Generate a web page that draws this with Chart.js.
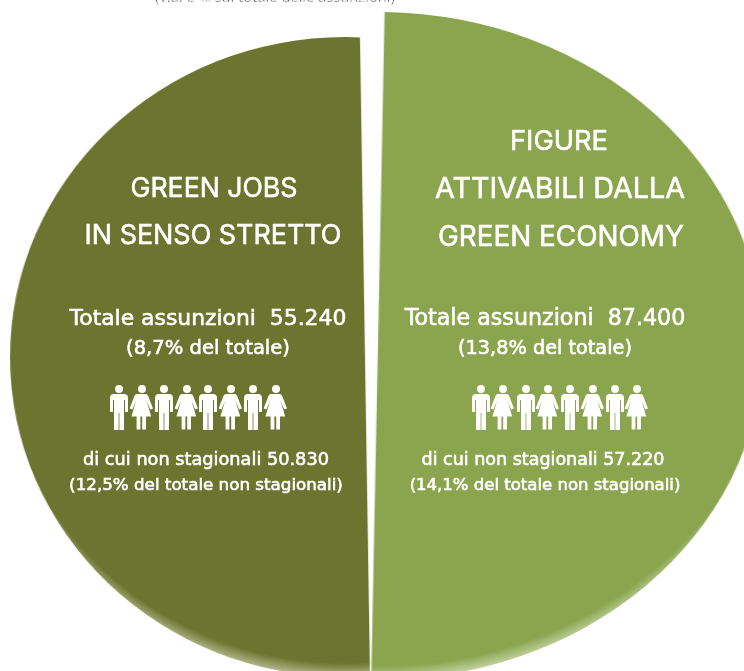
<!DOCTYPE html>
<html lang="it">
<head>
<meta charset="UTF-8">
<title>Green jobs</title>
<script src="https://cdnjs.cloudflare.com/ajax/libs/Chart.js/4.4.1/chart.umd.min.js"></script>
<style>
  html, body { margin: 0; padding: 0; background: #fff; }
  #stage { position: relative; width: 744px; height: 671px; overflow: hidden; }
  canvas { position: absolute; top: 0; left: 0; }
  #labels { position: absolute; top: 0; left: 0; }
  #labels text { fill: #fff; stroke: none; font-family: "DejaVu Sans", sans-serif; font-weight: 200; text-anchor: middle; }
  #labels text.head { font-family: Inter, sans-serif; stroke: #fff; stroke-width: 1.4px; }
  #labels text.note { fill: #000; font-family: "Open Sans", sans-serif; font-weight: 400; }
  #labels tspan.strong { font-weight: 400; stroke: #fff; stroke-width: 0.6px; }
</style>
</head>
<body>
<div id="stage">
  <canvas id="left" width="800" height="800"></canvas>
  <canvas id="right" width="800" height="800"></canvas>
  <svg id="labels" width="744" height="671" xmlns="http://www.w3.org/2000/svg"></svg>
</div>

<script>
const hires = [55240, 87400];
const hireShares = ['8,7', '13,8'];
const nonSeasonal = [50830, 57220];
const nonSeasonalShares = ['12,5', '14,1'];
const colors = ['#6b752f', '#8aa54e'];
const rimColors = ['#b4ba8e', '#c5d4a4'];

const dots = n => String(n).replace(/\B(?=(\d{3})+$)/g, '.');

// each slice is its own chart so the two can have different radii
function slice(id, value, color, rim, rotation, circumference, cx, cy, rx, ry) {
    const canvas = document.getElementById(id);
    const chart = new Chart(canvas, {
        type: 'pie',
        data: {
            datasets: [{
                data: [value],
                backgroundColor: color,
                borderWidth: 0,
                radius: ry
            }]
        },
        options: {
            responsive: false,
            animation: false,
            rotation: rotation,
            circumference: circumference,
            plugins: { legend: { display: false }, tooltip: { enabled: false } }
        }
    });
    const arc = chart.getDatasetMeta(0).data[0];
    canvas.style.left = (cx - arc.x) + 'px';
    canvas.style.top = (cy - arc.y) + 'px';
    canvas.style.transformOrigin = arc.x + 'px ' + arc.y + 'px';
    canvas.style.transform = 'scaleX(' + (rx / ry) + ')';

    // soft lighter rim along the lower edge only: gradient circle sits higher than the pie
    const lift = 24;
    const outer = ry + lift;
    const g = chart.ctx.createRadialGradient(arc.x, arc.y - lift, 0, arc.x, arc.y - lift, outer);
    g.addColorStop(0, color);
    g.addColorStop((outer - 14) / outer, color);
    g.addColorStop(1, rim);
    chart.data.datasets[0].backgroundColor = g;
    chart.update();
    return { canvas, arc };
}

const leftSlice = slice('left', hires[0], colors[0], rimColors[0], 0, 360, 345, 357, 335, 320);
slice('right', hires[1], colors[1], rimColors[1], 1, 180, 378, 346, 385, 334);

// straight edge of the left slice, in canvas coordinates
(function () {
    const { canvas, arc } = leftSlice;
    const sx = 335 / 320;
    const toX = x => arc.x + (x - 345) / sx;
    const toY = y => arc.y + (y - 357);
    canvas.style.clipPath = 'polygon(0 0, ' + toX(360) + 'px 0, ' + toX(360) + 'px ' + toY(37) + 'px, ' +
        toX(370) + 'px ' + toY(671) + 'px, ' + toX(370) + 'px 800px, 0 800px)';
})();

const svg = document.getElementById('labels');
const NS = 'http://www.w3.org/2000/svg';

// font size is fitted so the line comes out at the wanted width
function label(parts, cx, y, width, cls) {
    const t = document.createElementNS(NS, 'text');
    t.setAttribute('x', cx);
    t.setAttribute('y', y);
    t.setAttribute('font-size', 20);
    if (cls) t.setAttribute('class', cls);
    [].concat(parts).forEach(p => {
        const s = document.createElementNS(NS, 'tspan');
        s.textContent = p.text || p;
        if (p.bold) s.setAttribute('class', 'strong');
        t.appendChild(s);
    });
    svg.appendChild(t);
    t.setAttribute('font-size', 20 * width / t.getComputedTextLength());
}

label('(v.a. e % sul totale delle assunzioni)', 275, 2, 240, 'note');

label('GREEN JOBS', 214, 197, 167, 'head');
label('IN SENSO STRETTO', 213, 244, 257, 'head');
label('FIGURE', 559, 150, 98, 'head');
label('ATTIVABILI DALLA', 560, 198, 250, 'head');
label('GREEN ECONOMY', 561, 246, 246, 'head');

label('Totale assunzioni\u00a0\u00a0' + dots(hires[0]), 208, 325, 277);
label('(' + hireShares[0] + '% del totale)', 208, 354, 164);
label('Totale assunzioni\u00a0\u00a0' + dots(hires[1]), 545, 325, 281);
label('(' + hireShares[1] + '% del totale)', 545, 354, 174);

label(['di cui ', { text: 'non stagionali', bold: true }, ' ' + dots(nonSeasonal[0])], 206, 465, 246);
label('(' + nonSeasonalShares[0] + '% del totale non stagionali)', 206, 490, 274);
label(['di cui ', { text: 'non stagionali', bold: true }, ' ' + dots(nonSeasonal[1])], 543, 465, 243);
label('(' + nonSeasonalShares[1] + '% del totale non stagionali)', 545, 490, 271);

// people pictograms, alternating man and woman
const manPath = 'M0 -22.5a4 4 0 1 1 0 8a4 4 0 1 1 0 -8z M-5 -13.5h10q4 0 4 4v14h-3v-12h-1v30h-4.6v-17h-.8v17h-4.6v-30h-1v12h-3v-14q0 -4 4 -4z';
const womanPath = 'M0 -22.5a4 4 0 1 1 0 8a4 4 0 1 1 0 -8z M-3.6 -13.5h7.2q1.8 0 2.6 2l4.8 12.5l-2.8 1.1l-3.6 -8.6l4.6 15.5h-5.2v13h-3.8v-13h-1.8v13h-3.8v-13h-5.2l4.6 -15.5l-3.6 8.6l-2.8 -1.1l4.8 -12.5q0.8 -2 2.6 -2z';
const iconRows = [
    { y: 407.5, xs: [119, 142, 164, 187, 208, 231, 253, 276] },
    { y: 407.5, xs: [481, 503, 526, 548, 570, 593, 615, 637] }
];
iconRows.forEach(row => {
    row.xs.forEach((x, i) => {
        const p = document.createElementNS(NS, 'path');
        p.setAttribute('d', i % 2 ? womanPath : manPath);
        p.setAttribute('fill', '#fff');
        p.setAttribute('transform', 'translate(' + x + ' ' + row.y + ')');
        svg.appendChild(p);
    });
});
</script>
</body>
</html>
